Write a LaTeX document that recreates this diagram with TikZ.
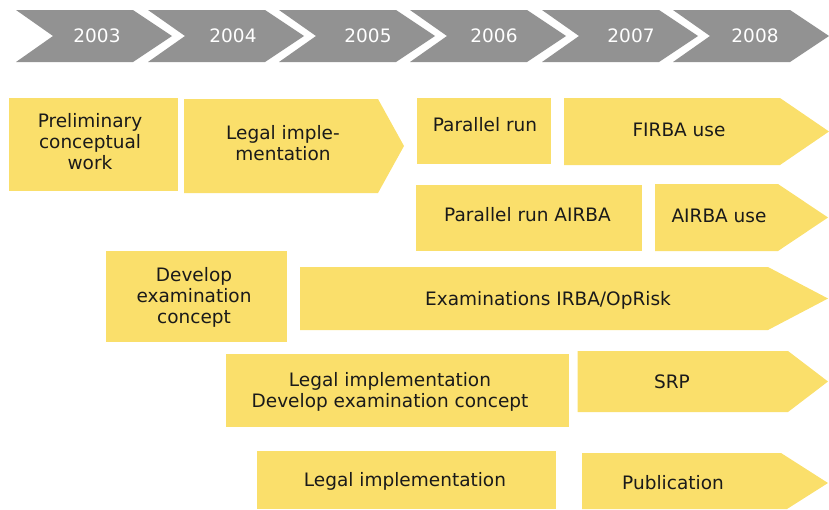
\documentclass[tikz,border=0pt]{standalone}
\usepackage{fontspec}
\setmainfont{DejaVu Sans}
\definecolor{yeargray}{RGB}{146,146,146}
\definecolor{baryellow}{RGB}{250,223,107}
\definecolor{bartext}{RGB}{26,26,26}
\tikzstyle{year}=[fill=yeargray]
\tikzstyle{bar}=[fill=baryellow]
\tikzstyle{yearlabel}=[text=white,font=\fontsize{18.5}{21}\selectfont]
\tikzstyle{barlabel}=[text=bartext,align=center,inner sep=0pt,font=\fontsize{18.5}{21}\selectfont]

\begin{document}
\begin{tikzpicture}[x=1pt,y=-1pt]
  \useasboundingbox (0,0) rectangle (829,509);

  \fill[year] (16,10) -- (133,10) -- (172,36) -- (133,62) -- (16,62) -- (53,36) -- cycle;
  \fill[year] (148,10) -- (265,10) -- (304,36) -- (265,62) -- (148,62) -- (185,36) -- cycle;
  \fill[year] (279,10) -- (396,10) -- (435,36) -- (396,62) -- (279,62) -- (316,36) -- cycle;
  \fill[year] (410,10) -- (527,10) -- (566,36) -- (527,62) -- (410,62) -- (447,36) -- cycle;
  \fill[year] (542,10) -- (659,10) -- (698,36) -- (659,62) -- (542,62) -- (579,36) -- cycle;
  \fill[year] (673,10) -- (790,10) -- (829,36) -- (790,62) -- (673,62) -- (710,36) -- cycle;
  \node[yearlabel] (y2003) at (97,36) {2003};
  \node[yearlabel] (y2004) at (233,36) {2004};
  \node[yearlabel] (y2005) at (368,36) {2005};
  \node[yearlabel] (y2006) at (494,36) {2006};
  \node[yearlabel] (y2007) at (631,36) {2007};
  \node[yearlabel] (y2008) at (755,36) {2008};

  \fill[bar] (9,98) rectangle (178,191);
  \fill[bar] (184,99) -- (378,99) -- (404,146) -- (378,193) -- (184,193) -- cycle;
  \fill[bar] (417,98) rectangle (551,164);
  \fill[bar] (564,98) -- (780,98) -- (829,131.5) -- (780,165) -- (564,165) -- cycle;
  \fill[bar] (416,185) rectangle (642,251);
  \fill[bar] (655,184) -- (778,184) -- (828,217.5) -- (778,251) -- (655,251) -- cycle;
  \fill[bar] (106,251) rectangle (287,342);
  \fill[bar] (300,267) -- (768,267) -- (828,298.5) -- (768,330) -- (300,330) -- cycle;
  \fill[bar] (226,354) rectangle (568.5,427);
  \fill[bar] (577.5,351) -- (788,351) -- (828,381.5) -- (788,412) -- (577.5,412) -- cycle;
  \fill[bar] (257,451) rectangle (556,509);
  \fill[bar] (582,453) -- (781,453) -- (828,483) -- (787,509) -- (582,509) -- cycle;

  \node[barlabel] (prelim) at (90,142) {Preliminary\\conceptual\\work};
  \node[barlabel] (legal) at (283,143) {Legal imple-\\mentation};
  \node[barlabel] (parrun) at (485,125) {Parallel run};
  \node[barlabel] (firba) at (679,130) {FIRBA use};
  \node[barlabel] (parairba) at (527.5,214.5) {Parallel run AIRBA};
  \node[barlabel] (airba) at (719,215.5) {AIRBA use};
  \node[barlabel] (devexam) at (194,297) {Develop\\examination\\concept};
  \node[barlabel] (exams) at (548,300) {Examinations IRBA/OpRisk};
  \node[barlabel] (legaldev) at (390,391.5) {Legal implementation\\Develop examination concept};
  \node[barlabel] (srp) at (672,381.5) {SRP};
  \node[barlabel] (legalimpl) at (405,481) {Legal implementation};
  \node[barlabel] (publ) at (673,483) {Publication};
\end{tikzpicture}
\end{document}
